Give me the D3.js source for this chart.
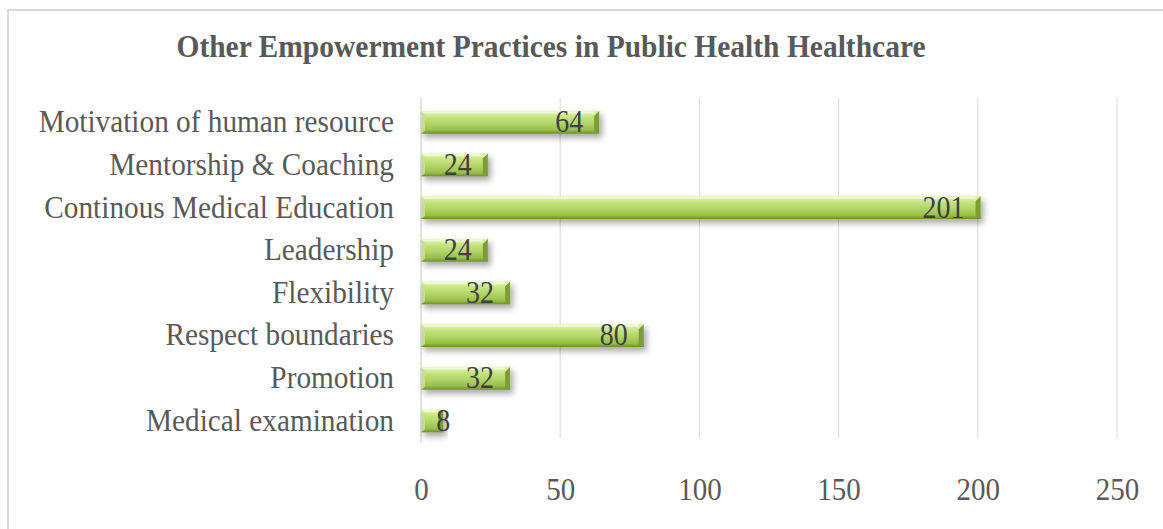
<!DOCTYPE html>
<html>
<head>
<meta charset="utf-8">
<script src="https://cdn.jsdelivr.net/npm/d3@7/dist/d3.min.js"></script>
<style>
  html, body { margin: 0; padding: 0; background: #fff; }
  svg { display: block; }
  text { font-family: "Liberation Serif", "Times New Roman", serif; }
</style>
</head>
<body>
<svg id="chart" width="1163" height="529"></svg>
<script>
// Empowerment practices (top to bottom as displayed)
const categories = [
  "Motivation of human resource",
  "Mentorship & Coaching",
  "Continous Medical Education",
  "Leadership",
  "Flexibility",
  "Respect boundaries",
  "Promotion",
  "Medical examination"
];
const values = [64, 24, 201, 24, 32, 80, 32, 8];
const xTicks = [0, 50, 100, 150, 200, 250];
const title = "Other Empowerment Practices in Public Health Healthcare";

const svg = d3.select("#chart");
const W = 1163, H = 529;
const plot = { left: 421, right: 1117, top: 100, bottom: 443 };
const tall = "scale(1,1.1)"; // slightly tall type, as in the printed figure

// Outer chart frame (runs past the right and bottom edges)
svg.append("rect")
  .attr("x", 8).attr("y", 10)
  .attr("width", W + 20).attr("height", H + 20)
  .attr("fill", "#fff")
  .attr("stroke", "#d9d9d9").attr("stroke-width", 2);

const defs = svg.append("defs");
const grad = defs.append("linearGradient")
  .attr("id", "barFill").attr("x1", 0).attr("y1", 0).attr("x2", 0).attr("y2", 1);
[
  [0, "#eef9cf"], [0.12, "#d5ee9c"], [0.3, "#c4e27e"],
  [0.6, "#aed262"], [0.85, "#98bd48"], [1, "#6d8a2a"]
].forEach(([o, c]) => grad.append("stop").attr("offset", o).attr("stop-color", c));

const shadow = defs.append("filter").attr("id", "barShadow")
  .attr("x", "-10%").attr("y", "-50%").attr("width", "130%").attr("height", "250%");
shadow.append("feDropShadow")
  .attr("dx", 3).attr("dy", 4).attr("stdDeviation", 3)
  .attr("flood-color", "#000").attr("flood-opacity", 0.35);

const x = d3.scaleLinear().domain([0, 250]).range([plot.left, plot.right]);
const y = d3.scaleBand().domain(categories).range([plot.top, plot.bottom]).paddingInner(0.46).paddingOuter(0.25);

// Title
svg.append("text")
  .attr("transform", `translate(551,57) ${tall}`)
  .attr("text-anchor", "middle")
  .attr("font-size", 29.5).attr("font-weight", "bold")
  .attr("fill", "#595959")
  .text(title);

// Vertical gridlines
svg.append("g").selectAll("line")
  .data(xTicks.filter(d => d > 0))
  .join("line")
  .attr("x1", d => x(d)).attr("x2", d => x(d))
  .attr("y1", plot.top - 2).attr("y2", plot.bottom - 5)
  .attr("stroke", "#d9d9d9").attr("stroke-width", 1);

// Category axis line
svg.append("line")
  .attr("x1", x(0)).attr("x2", x(0))
  .attr("y1", plot.top - 2).attr("y2", plot.bottom)
  .attr("stroke", "#d0d0d0").attr("stroke-width", 1.2);

// Value axis tick labels
const xAxis = d3.axisBottom(x).tickValues(xTicks).tickSize(0).tickPadding(0).tickFormat(d3.format("d"));
const gx = svg.append("g").attr("transform", `translate(0,${500})`).call(xAxis);
gx.select(".domain").remove();
gx.selectAll("text")
  .attr("dy", 0).attr("y", 0)
  .attr("transform", tall)
  .attr("font-size", 29).attr("fill", "#595959")
  .attr("font-family", "Liberation Serif, Times New Roman, serif");

// Category labels
const yAxis = d3.axisLeft(y).tickSize(0).tickPadding(0);
const gy = svg.append("g").attr("transform", `translate(394,0)`).call(yAxis);
gy.select(".domain").remove();
gy.selectAll("text")
  .attr("x", 0).attr("dy", 0)
  .attr("transform", `translate(0,10) ${tall}`)
  .attr("font-size", 29.3).attr("fill", "#595959")
  .attr("font-family", "Liberation Serif, Times New Roman, serif");

// Bars with bevelled ends
const bars = svg.append("g").selectAll("g.bar")
  .data(categories.map((c, i) => ({ c, v: values[i] })))
  .join("g").attr("class", "bar");

const bh = y.bandwidth();
const bev = 5;

bars.append("rect")
  .attr("x", x(0)).attr("y", d => y(d.c))
  .attr("width", d => x(d.v) - x(0)).attr("height", bh)
  .attr("fill", "url(#barFill)")
  .attr("filter", "url(#barShadow)");

// top highlight strip
bars.append("rect")
  .attr("x", x(0) + 1).attr("y", d => y(d.c) + 1)
  .attr("width", d => Math.max(0, x(d.v) - x(0) - 2)).attr("height", 2)
  .attr("fill", "#f3fbdc").attr("opacity", 0.8);

// right end bevel: light upper facet and dark lower facet
bars.append("path")
  .attr("d", d => {
    const xe = x(d.v), yt = y(d.c);
    return `M${xe - bev},${yt + bev} L${xe},${yt} L${xe},${yt + bh} L${xe - bev},${yt + bh - 2} Z`;
  })
  .attr("fill", "#7e9c34");
bars.append("path")
  .attr("d", d => {
    const xe = x(d.v), yt = y(d.c);
    return `M${xe - bev},${yt + bev} L${xe},${yt} L${xe - bev},${yt} Z`;
  })
  .attr("fill", "#d9efa6");
// left end bevel
bars.append("path")
  .attr("d", d => {
    const xs = x(0), yt = y(d.c);
    return `M${xs},${yt} L${xs + 4},${yt + 4} L${xs + 4},${yt + bh - 3} L${xs},${yt + bh} Z`;
  })
  .attr("fill", "#c5e285").attr("opacity", 0.9);

// Value labels, inside the bar end
bars.append("text")
  .attr("font-size", 28).attr("fill", "#404040")
  .text(d => d.v)
  .each(function (d) {
    const t = d3.select(this);
    const w = this.getComputedTextLength();
    const xe = x(d.v);
    const yb = y(d.c) + bh / 2 + 10;
    if (xe - 16 - w < x(0) + 4) {
      t.attr("transform", `translate(${xe},${yb}) ${tall}`).attr("text-anchor", "middle");
    } else {
      t.attr("transform", `translate(${xe - 16},${yb}) ${tall}`).attr("text-anchor", "end");
    }
  });
</script>
</body>
</html>
